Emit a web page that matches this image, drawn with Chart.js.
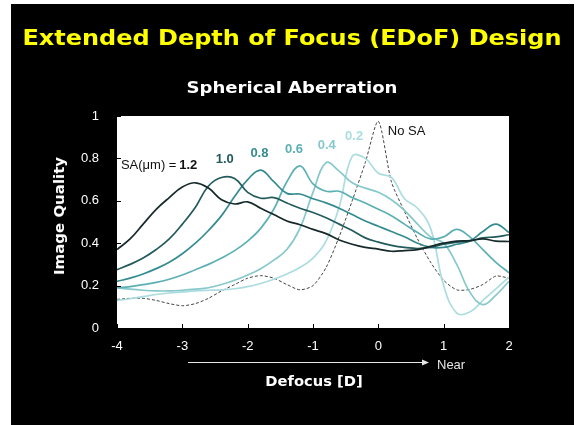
<!DOCTYPE html>
<html>
<head>
<meta charset="utf-8">
<script src="https://cdn.jsdelivr.net/npm/chart.js@4.4.1/dist/chart.umd.min.js"></script>
<style>
  body { margin: 0; background: #fff; width: 579px; height: 425px; overflow: hidden; position: relative; font-family: "Liberation Sans", Arial, sans-serif; }
  #panel { position: absolute; left: 11px; top: 4px; width: 563px; height: 421px; background: #000; }
  #c { position: absolute; left: 0; top: 0; }
  .t { position: absolute; white-space: nowrap; font-weight: bold; font-family: "DejaVu Sans", sans-serif; transform-origin: center center; }
  #title { left: 292px; top: 27px; font-size: 22px; line-height: 22px; color: #ffff00; transform: translateX(-50%) scaleX(1.09); }
  #sub { left: 292px; top: 80px; font-size: 16px; line-height: 16px; color: #fff; transform: translateX(-50%) scaleX(1.13); }
  #ytitle { left: 59px; top: 216px; font-size: 14px; line-height: 14px; color: #fff; transform: translate(-50%, -50%) rotate(-90deg) scaleX(1.07); }
  #xtitle { left: 314px; top: 381px; font-size: 14px; line-height: 14px; color: #fff; transform: translate(-50%, -50%) scaleX(1.05); }
  #near { position: absolute; left: 437px; top: 358px; font-size: 13px; line-height: 14px; color: #e6e6e6; }
  #arrow { position: absolute; left: 0; top: 0; }
</style>
</head>
<body>
<div id="panel"></div>
<canvas id="c" width="579" height="425"></canvas>
<div class="t" id="title">Extended Depth of Focus (EDoF) Design</div>
<div class="t" id="sub">Spherical Aberration</div>
<div class="t" id="ytitle">Image Quality</div>
<div class="t" id="xtitle">Defocus [D]</div>
<svg id="arrow" width="579" height="425">
  <line x1="188" y1="362.5" x2="424" y2="362.5" stroke="#e6e6e6" stroke-width="1"/>
  <polygon points="429,362.5 422,359.5 422,365.5" fill="#e6e6e6"/>
</svg>
<div id="near">Near</div>
<script>
// defocus grid (D)
var defocus = [-4, -3.8, -3.6, -3.4, -3.2, -3, -2.8, -2.6, -2.4, -2.2, -2, -1.8, -1.6, -1.4, -1.2, -1, -0.8, -0.6, -0.4, -0.2, 0, 0.2, 0.4, 0.6, 0.8, 1, 1.2, 1.4, 1.6, 1.8, 2]

// image quality for each amount of spherical aberration
var sa12 = [0.37, 0.42, 0.49, 0.56, 0.615, 0.665, 0.685, 0.66, 0.605, 0.585, 0.595, 0.565, 0.535, 0.505, 0.487, 0.465, 0.445, 0.415, 0.395, 0.38, 0.372, 0.362, 0.365, 0.37, 0.385, 0.4, 0.41, 0.412, 0.42, 0.41, 0.408]
var sa10 = [0.275, 0.3, 0.33, 0.37, 0.42, 0.49, 0.57, 0.67, 0.71, 0.705, 0.64, 0.612, 0.615, 0.59, 0.565, 0.545, 0.52, 0.49, 0.46, 0.425, 0.405, 0.39, 0.38, 0.375, 0.38, 0.395, 0.405, 0.41, 0.425, 0.43, 0.44]
var sa08 = [0.22, 0.235, 0.255, 0.28, 0.31, 0.35, 0.4, 0.46, 0.53, 0.62, 0.7, 0.745, 0.69, 0.635, 0.632, 0.61, 0.59, 0.565, 0.535, 0.505, 0.48, 0.455, 0.43, 0.4, 0.38, 0.38, 0.395, 0.41, 0.455, 0.49, 0.45]
var sa06 = [0.19, 0.195, 0.205, 0.215, 0.23, 0.25, 0.275, 0.3, 0.33, 0.365, 0.41, 0.47, 0.56, 0.69, 0.765, 0.68, 0.645, 0.645, 0.615, 0.59, 0.56, 0.53, 0.49, 0.45, 0.42, 0.43, 0.465, 0.43, 0.37, 0.31, 0.26]
var sa04 = [0.19, 0.183, 0.178, 0.175, 0.175, 0.178, 0.183, 0.19, 0.205, 0.225, 0.25, 0.28, 0.32, 0.37, 0.47, 0.64, 0.78, 0.74, 0.685, 0.66, 0.64, 0.605, 0.555, 0.49, 0.43, 0.4, 0.3, 0.17, 0.11, 0.155, 0.22]
var sa02 = [0.13, 0.138, 0.148, 0.158, 0.165, 0.17, 0.175, 0.178, 0.18, 0.185, 0.195, 0.21, 0.23, 0.255, 0.285, 0.33, 0.41, 0.57, 0.81, 0.8, 0.73, 0.71, 0.61, 0.565, 0.47, 0.2, 0.07, 0.075, 0.13, 0.185, 0.24]
var noSA = [0.135, 0.14, 0.14, 0.13, 0.115, 0.105, 0.115, 0.14, 0.175, 0.205, 0.235, 0.247, 0.235, 0.205, 0.18, 0.2, 0.285, 0.43, 0.6, 0.78, 0.975, 0.69, 0.55, 0.42, 0.31, 0.225, 0.18, 0.182, 0.205, 0.245, 0.235]

var saNames = ['1.2', '1.0', '0.8', '0.6', '0.4', '0.2']
var saColors = ['#172a2b', '#235a5c', '#358c90', '#5cb0b4', '#86c8cc', '#abdde0']
// where each SA label sits (defocus, quality)
var labelX = [-2.91, -2.35, -1.82, -1.29, -0.79, -0.37]
var labelY = [0.769, 0.795, 0.824, 0.843, 0.863, 0.905]

var xTicks = [-4, -3, -2, -1, 0, 1, 2]
var yTicks = ['0', '0.2', '0.4', '0.6', '0.8', '1']

function pts(arr) {
  return arr.map(function (v, i) { return { x: defocus[i], y: v } })
}

var series = [sa12, sa10, sa08, sa06, sa04, sa02]
var datasets = series.map(function (s, i) {
  return { label: 'SA ' + saNames[i], data: pts(s), borderColor: saColors[i], borderWidth: 1.7, pointRadius: 0, tension: 0.4, fill: false }
})
datasets.push({ label: 'No SA', data: pts(noSA), borderColor: '#444', borderWidth: 1, borderDash: [3, 2], pointRadius: 0, tension: 0.25, fill: false })

var plotBits = {
  id: 'plotBits',
  beforeDatasetsDraw: function (chart) {
    var a = chart.chartArea, ctx = chart.ctx
    ctx.save()
    ctx.fillStyle = '#fff'
    ctx.fillRect(a.left, a.top, a.right - a.left, a.bottom - a.top)
    ctx.restore()
  },
  afterDatasetsDraw: function (chart) {
    var ctx = chart.ctx, a = chart.chartArea
    var x = chart.scales.x, y = chart.scales.y
    ctx.save()
    // small inward ticks
    ctx.strokeStyle = '#000'
    ctx.lineWidth = 1
    ctx.beginPath()
    xTicks.forEach(function (v) {
      var px = Math.round(x.getPixelForValue(v)) + 0.5
      ctx.moveTo(px, a.bottom); ctx.lineTo(px, a.bottom - 4)
    })
    yTicks.forEach(function (t) {
      var py = Math.round(y.getPixelForValue(Number(t))) + 0.5
      ctx.moveTo(a.left, py); ctx.lineTo(a.left + 4, py)
    })
    ctx.stroke()

    ctx.textBaseline = 'middle'
    ctx.textAlign = 'left'
    ctx.fillStyle = '#111'
    ctx.font = '13px "Liberation Sans", Arial, sans-serif'
    ctx.fillText('SA(\u03bcm) = ', x.getPixelForValue(-3.94), y.getPixelForValue(labelY[0]))

    ctx.textAlign = 'center'
    ctx.font = 'bold 13px "Liberation Sans", Arial, sans-serif'
    saNames.forEach(function (n, i) {
      ctx.fillStyle = i == 0 ? '#111' : saColors[i]
      ctx.fillText(n, x.getPixelForValue(labelX[i]), y.getPixelForValue(labelY[i]))
    })

    ctx.textAlign = 'left'
    ctx.fillStyle = '#111'
    ctx.font = '13px "Liberation Sans", Arial, sans-serif'
    ctx.fillText('No SA', x.getPixelForValue(0.144), y.getPixelForValue(0.927))
    ctx.restore()
  }
}

new Chart(document.getElementById('c'), {
  type: 'line',
  data: { datasets: datasets },
  options: {
    responsive: false,
    devicePixelRatio: 1,
    animation: false,
    layout: { padding: { left: 20, top: 116, right: 70, bottom: 57 } },
    plugins: { legend: { display: false }, tooltip: { enabled: false } },
    scales: {
      x: {
        type: 'linear', min: -4, max: 2,
        grid: { display: false }, border: { display: false },
        ticks: { stepSize: 1, color: '#fff', padding: 3, font: { family: '"Liberation Sans", Arial, sans-serif', size: 13 },
          callback: function (v) { return String(v) } },
        afterFit: function (s) { s.height = 40 }
      },
      y: {
        min: 0, max: 1,
        grid: { display: false }, border: { display: false },
        ticks: { stepSize: 0.2, color: '#fff', padding: 10, font: { family: '"Liberation Sans", Arial, sans-serif', size: 13 },
          callback: function (v, i) { return yTicks[i] } },
        afterFit: function (s) { s.width = 97 }
      }
    }
  },
  plugins: [plotBits]
})
</script>
</body>
</html>
